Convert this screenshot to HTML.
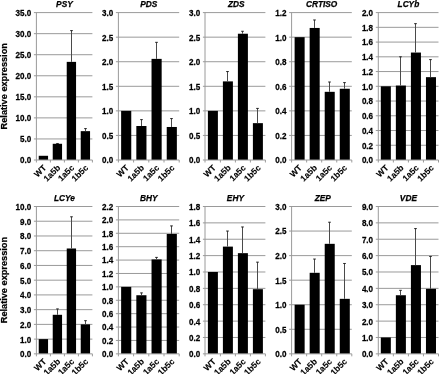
<!DOCTYPE html>
<html><head><meta charset="utf-8"><style>
html,body{margin:0;padding:0;background:#fff;}
body{width:440px;height:374px;overflow:hidden;}
svg{display:block;will-change:transform;}
text{font-family:"Liberation Sans",sans-serif;font-weight:bold;fill:#000;stroke:#000;stroke-width:0.25px;}
.yt{font-size:8.5px;text-anchor:end;}
.xl{font-size:8.5px;text-anchor:end;stroke-width:0.12px;}
.tt{font-size:8.3px;font-style:italic;text-anchor:middle;}
.yl{font-size:9.2px;text-anchor:middle;}
</style></head><body>
<svg width="440" height="374" viewBox="0 0 440 374">
<line x1="33.90" y1="138.94" x2="92.40" y2="138.94" stroke="#9a9a9a" stroke-width="1"/>
<line x1="33.90" y1="117.89" x2="92.40" y2="117.89" stroke="#9a9a9a" stroke-width="1"/>
<line x1="33.90" y1="96.83" x2="92.40" y2="96.83" stroke="#9a9a9a" stroke-width="1"/>
<line x1="33.90" y1="75.77" x2="92.40" y2="75.77" stroke="#9a9a9a" stroke-width="1"/>
<line x1="33.90" y1="54.71" x2="92.40" y2="54.71" stroke="#9a9a9a" stroke-width="1"/>
<line x1="33.90" y1="33.66" x2="92.40" y2="33.66" stroke="#9a9a9a" stroke-width="1"/>
<line x1="33.90" y1="12.60" x2="92.40" y2="12.60" stroke="#9a9a9a" stroke-width="1"/>
<text transform="translate(31.20,163) scale(0.95,1)" class="yt">0.0</text>
<text transform="translate(31.20,142) scale(0.95,1)" class="yt">5.0</text>
<text transform="translate(31.20,121) scale(0.95,1)" class="yt">10.0</text>
<text transform="translate(31.20,100) scale(0.95,1)" class="yt">15.0</text>
<text transform="translate(31.20,79) scale(0.95,1)" class="yt">20.0</text>
<text transform="translate(31.20,58) scale(0.95,1)" class="yt">25.0</text>
<text transform="translate(31.20,37) scale(0.95,1)" class="yt">30.0</text>
<text transform="translate(31.20,16) scale(0.95,1)" class="yt">35.0</text>
<rect x="38.73" y="155.79" width="9.33" height="4.21" fill="#000"/>
<rect x="52.73" y="143.79" width="9.33" height="16.21" fill="#000"/>
<line x1="57.50" y1="143.49" x2="57.50" y2="143.79" stroke="#4a4a4a" stroke-width="1"/>
<line x1="56.20" y1="143.49" x2="58.80" y2="143.49" stroke="#222" stroke-width="1"/>
<rect x="66.73" y="61.87" width="9.33" height="98.13" fill="#000"/>
<line x1="71.50" y1="30.62" x2="71.50" y2="61.87" stroke="#4a4a4a" stroke-width="1"/>
<line x1="70.20" y1="30.62" x2="72.80" y2="30.62" stroke="#222" stroke-width="1"/>
<rect x="80.73" y="131.15" width="9.33" height="28.85" fill="#000"/>
<line x1="85.50" y1="128.62" x2="85.50" y2="131.15" stroke="#4a4a4a" stroke-width="1"/>
<line x1="84.20" y1="128.62" x2="86.80" y2="128.62" stroke="#222" stroke-width="1"/>
<line x1="36.40" y1="12.60" x2="36.40" y2="162.50" stroke="#9a9a9a" stroke-width="1"/>
<line x1="33.90" y1="160.00" x2="92.40" y2="160.00" stroke="#9a9a9a" stroke-width="1"/>
<line x1="50.40" y1="160.00" x2="50.40" y2="162.50" stroke="#9a9a9a" stroke-width="1"/>
<line x1="64.40" y1="160.00" x2="64.40" y2="162.50" stroke="#9a9a9a" stroke-width="1"/>
<line x1="78.40" y1="160.00" x2="78.40" y2="162.50" stroke="#9a9a9a" stroke-width="1"/>
<line x1="92.40" y1="160.00" x2="92.40" y2="162.50" stroke="#9a9a9a" stroke-width="1"/>
<text transform="translate(46.80,168.30) rotate(-45)" class="xl">WT</text>
<text transform="translate(60.80,168.30) rotate(-45)" class="xl">1a5b</text>
<text transform="translate(74.80,168.30) rotate(-45)" class="xl">1a5c</text>
<text transform="translate(88.80,168.30) rotate(-45)" class="xl">1b5c</text>
<text x="64.40" y="7.00" class="tt">PSY</text>
<line x1="115.90" y1="135.43" x2="179.20" y2="135.43" stroke="#9a9a9a" stroke-width="1"/>
<line x1="115.90" y1="110.87" x2="179.20" y2="110.87" stroke="#9a9a9a" stroke-width="1"/>
<line x1="115.90" y1="86.30" x2="179.20" y2="86.30" stroke="#9a9a9a" stroke-width="1"/>
<line x1="115.90" y1="61.73" x2="179.20" y2="61.73" stroke="#9a9a9a" stroke-width="1"/>
<line x1="115.90" y1="37.17" x2="179.20" y2="37.17" stroke="#9a9a9a" stroke-width="1"/>
<line x1="115.90" y1="12.60" x2="179.20" y2="12.60" stroke="#9a9a9a" stroke-width="1"/>
<text transform="translate(113.20,163) scale(0.95,1)" class="yt">0.0</text>
<text transform="translate(113.20,139) scale(0.95,1)" class="yt">0.5</text>
<text transform="translate(113.20,114) scale(0.95,1)" class="yt">1.0</text>
<text transform="translate(113.20,90) scale(0.95,1)" class="yt">1.5</text>
<text transform="translate(113.20,65) scale(0.95,1)" class="yt">2.0</text>
<text transform="translate(113.20,41) scale(0.95,1)" class="yt">2.5</text>
<text transform="translate(113.20,16) scale(0.95,1)" class="yt">3.0</text>
<rect x="121.13" y="110.87" width="10.13" height="49.13" fill="#000"/>
<rect x="136.33" y="126.00" width="10.13" height="34.00" fill="#000"/>
<line x1="141.50" y1="119.61" x2="141.50" y2="126.00" stroke="#4a4a4a" stroke-width="1"/>
<line x1="140.20" y1="119.61" x2="142.80" y2="119.61" stroke="#222" stroke-width="1"/>
<rect x="151.53" y="58.88" width="10.13" height="101.12" fill="#000"/>
<line x1="156.50" y1="42.33" x2="156.50" y2="58.88" stroke="#4a4a4a" stroke-width="1"/>
<line x1="155.20" y1="42.33" x2="157.80" y2="42.33" stroke="#222" stroke-width="1"/>
<rect x="166.73" y="126.98" width="10.13" height="33.02" fill="#000"/>
<line x1="171.50" y1="118.58" x2="171.50" y2="126.98" stroke="#4a4a4a" stroke-width="1"/>
<line x1="170.20" y1="118.58" x2="172.80" y2="118.58" stroke="#222" stroke-width="1"/>
<line x1="118.40" y1="12.60" x2="118.40" y2="162.50" stroke="#9a9a9a" stroke-width="1"/>
<line x1="115.90" y1="160.00" x2="179.20" y2="160.00" stroke="#9a9a9a" stroke-width="1"/>
<line x1="133.60" y1="160.00" x2="133.60" y2="162.50" stroke="#9a9a9a" stroke-width="1"/>
<line x1="148.80" y1="160.00" x2="148.80" y2="162.50" stroke="#9a9a9a" stroke-width="1"/>
<line x1="164.00" y1="160.00" x2="164.00" y2="162.50" stroke="#9a9a9a" stroke-width="1"/>
<line x1="179.20" y1="160.00" x2="179.20" y2="162.50" stroke="#9a9a9a" stroke-width="1"/>
<text transform="translate(129.40,168.30) rotate(-45)" class="xl">WT</text>
<text transform="translate(144.60,168.30) rotate(-45)" class="xl">1a5b</text>
<text transform="translate(159.80,168.30) rotate(-45)" class="xl">1a5c</text>
<text transform="translate(175.00,168.30) rotate(-45)" class="xl">1b5c</text>
<text x="148.80" y="7.00" class="tt">PDS</text>
<line x1="202.90" y1="135.43" x2="265.40" y2="135.43" stroke="#9a9a9a" stroke-width="1"/>
<line x1="202.90" y1="110.87" x2="265.40" y2="110.87" stroke="#9a9a9a" stroke-width="1"/>
<line x1="202.90" y1="86.30" x2="265.40" y2="86.30" stroke="#9a9a9a" stroke-width="1"/>
<line x1="202.90" y1="61.73" x2="265.40" y2="61.73" stroke="#9a9a9a" stroke-width="1"/>
<line x1="202.90" y1="37.17" x2="265.40" y2="37.17" stroke="#9a9a9a" stroke-width="1"/>
<line x1="202.90" y1="12.60" x2="265.40" y2="12.60" stroke="#9a9a9a" stroke-width="1"/>
<text transform="translate(200.20,163) scale(0.95,1)" class="yt">0.0</text>
<text transform="translate(200.20,139) scale(0.95,1)" class="yt">0.5</text>
<text transform="translate(200.20,114) scale(0.95,1)" class="yt">1.0</text>
<text transform="translate(200.20,90) scale(0.95,1)" class="yt">1.5</text>
<text transform="translate(200.20,65) scale(0.95,1)" class="yt">2.0</text>
<text transform="translate(200.20,41) scale(0.95,1)" class="yt">2.5</text>
<text transform="translate(200.20,16) scale(0.95,1)" class="yt">3.0</text>
<rect x="207.90" y="110.87" width="10.00" height="49.13" fill="#000"/>
<rect x="222.90" y="81.39" width="10.00" height="78.61" fill="#000"/>
<line x1="227.50" y1="71.56" x2="227.50" y2="81.39" stroke="#4a4a4a" stroke-width="1"/>
<line x1="226.20" y1="71.56" x2="228.80" y2="71.56" stroke="#222" stroke-width="1"/>
<rect x="237.90" y="33.73" width="10.00" height="126.27" fill="#000"/>
<line x1="242.50" y1="31.27" x2="242.50" y2="33.73" stroke="#4a4a4a" stroke-width="1"/>
<line x1="241.20" y1="31.27" x2="243.80" y2="31.27" stroke="#222" stroke-width="1"/>
<rect x="252.90" y="123.15" width="10.00" height="36.85" fill="#000"/>
<line x1="257.50" y1="108.41" x2="257.50" y2="123.15" stroke="#4a4a4a" stroke-width="1"/>
<line x1="256.20" y1="108.41" x2="258.80" y2="108.41" stroke="#222" stroke-width="1"/>
<line x1="205.00" y1="12.60" x2="205.00" y2="162.50" stroke="#9a9a9a" stroke-width="1"/>
<line x1="202.90" y1="160.00" x2="265.40" y2="160.00" stroke="#9a9a9a" stroke-width="1"/>
<line x1="220.40" y1="160.00" x2="220.40" y2="162.50" stroke="#9a9a9a" stroke-width="1"/>
<line x1="235.40" y1="160.00" x2="235.40" y2="162.50" stroke="#9a9a9a" stroke-width="1"/>
<line x1="250.40" y1="160.00" x2="250.40" y2="162.50" stroke="#9a9a9a" stroke-width="1"/>
<line x1="265.40" y1="160.00" x2="265.40" y2="162.50" stroke="#9a9a9a" stroke-width="1"/>
<text transform="translate(216.30,168.30) rotate(-45)" class="xl">WT</text>
<text transform="translate(231.30,168.30) rotate(-45)" class="xl">1a5b</text>
<text transform="translate(246.30,168.30) rotate(-45)" class="xl">1a5c</text>
<text transform="translate(261.30,168.30) rotate(-45)" class="xl">1b5c</text>
<text x="236.20" y="7.00" class="tt">ZDS</text>
<line x1="289.10" y1="135.43" x2="351.80" y2="135.43" stroke="#9a9a9a" stroke-width="1"/>
<line x1="289.10" y1="110.87" x2="351.80" y2="110.87" stroke="#9a9a9a" stroke-width="1"/>
<line x1="289.10" y1="86.30" x2="351.80" y2="86.30" stroke="#9a9a9a" stroke-width="1"/>
<line x1="289.10" y1="61.73" x2="351.80" y2="61.73" stroke="#9a9a9a" stroke-width="1"/>
<line x1="289.10" y1="37.17" x2="351.80" y2="37.17" stroke="#9a9a9a" stroke-width="1"/>
<line x1="289.10" y1="12.60" x2="351.80" y2="12.60" stroke="#9a9a9a" stroke-width="1"/>
<text transform="translate(286.40,163) scale(0.95,1)" class="yt">0.0</text>
<text transform="translate(286.40,139) scale(0.95,1)" class="yt">0.2</text>
<text transform="translate(286.40,114) scale(0.95,1)" class="yt">0.4</text>
<text transform="translate(286.40,90) scale(0.95,1)" class="yt">0.6</text>
<text transform="translate(286.40,65) scale(0.95,1)" class="yt">0.8</text>
<text transform="translate(286.40,41) scale(0.95,1)" class="yt">1.0</text>
<text transform="translate(286.40,16) scale(0.95,1)" class="yt">1.2</text>
<rect x="294.61" y="37.17" width="10.03" height="122.83" fill="#000"/>
<rect x="309.66" y="27.95" width="10.03" height="132.05" fill="#000"/>
<line x1="314.50" y1="19.97" x2="314.50" y2="27.95" stroke="#4a4a4a" stroke-width="1"/>
<line x1="313.20" y1="19.97" x2="315.80" y2="19.97" stroke="#222" stroke-width="1"/>
<rect x="324.71" y="91.83" width="10.03" height="68.17" fill="#000"/>
<line x1="329.50" y1="82.00" x2="329.50" y2="91.83" stroke="#4a4a4a" stroke-width="1"/>
<line x1="328.20" y1="82.00" x2="330.80" y2="82.00" stroke="#222" stroke-width="1"/>
<rect x="339.76" y="88.76" width="10.03" height="71.24" fill="#000"/>
<line x1="344.50" y1="82.61" x2="344.50" y2="88.76" stroke="#4a4a4a" stroke-width="1"/>
<line x1="343.20" y1="82.61" x2="345.80" y2="82.61" stroke="#222" stroke-width="1"/>
<line x1="291.60" y1="12.60" x2="291.60" y2="162.50" stroke="#9a9a9a" stroke-width="1"/>
<line x1="289.10" y1="160.00" x2="351.80" y2="160.00" stroke="#9a9a9a" stroke-width="1"/>
<line x1="306.65" y1="160.00" x2="306.65" y2="162.50" stroke="#9a9a9a" stroke-width="1"/>
<line x1="321.70" y1="160.00" x2="321.70" y2="162.50" stroke="#9a9a9a" stroke-width="1"/>
<line x1="336.75" y1="160.00" x2="336.75" y2="162.50" stroke="#9a9a9a" stroke-width="1"/>
<line x1="351.80" y1="160.00" x2="351.80" y2="162.50" stroke="#9a9a9a" stroke-width="1"/>
<text transform="translate(302.52,168.30) rotate(-45)" class="xl">WT</text>
<text transform="translate(317.57,168.30) rotate(-45)" class="xl">1a5b</text>
<text transform="translate(332.62,168.30) rotate(-45)" class="xl">1a5c</text>
<text transform="translate(347.68,168.30) rotate(-45)" class="xl">1b5c</text>
<text x="321.70" y="7.00" class="tt">CRTISO</text>
<line x1="375.80" y1="145.26" x2="438.50" y2="145.26" stroke="#9a9a9a" stroke-width="1"/>
<line x1="375.80" y1="130.52" x2="438.50" y2="130.52" stroke="#9a9a9a" stroke-width="1"/>
<line x1="375.80" y1="115.78" x2="438.50" y2="115.78" stroke="#9a9a9a" stroke-width="1"/>
<line x1="375.80" y1="101.04" x2="438.50" y2="101.04" stroke="#9a9a9a" stroke-width="1"/>
<line x1="375.80" y1="86.30" x2="438.50" y2="86.30" stroke="#9a9a9a" stroke-width="1"/>
<line x1="375.80" y1="71.56" x2="438.50" y2="71.56" stroke="#9a9a9a" stroke-width="1"/>
<line x1="375.80" y1="56.82" x2="438.50" y2="56.82" stroke="#9a9a9a" stroke-width="1"/>
<line x1="375.80" y1="42.08" x2="438.50" y2="42.08" stroke="#9a9a9a" stroke-width="1"/>
<line x1="375.80" y1="27.34" x2="438.50" y2="27.34" stroke="#9a9a9a" stroke-width="1"/>
<line x1="375.80" y1="12.60" x2="438.50" y2="12.60" stroke="#9a9a9a" stroke-width="1"/>
<text transform="translate(373.10,163) scale(0.95,1)" class="yt">0.0</text>
<text transform="translate(373.10,149) scale(0.95,1)" class="yt">0.2</text>
<text transform="translate(373.10,134) scale(0.95,1)" class="yt">0.4</text>
<text transform="translate(373.10,119) scale(0.95,1)" class="yt">0.6</text>
<text transform="translate(373.10,104) scale(0.95,1)" class="yt">0.8</text>
<text transform="translate(373.10,90) scale(0.95,1)" class="yt">1.0</text>
<text transform="translate(373.10,75) scale(0.95,1)" class="yt">1.2</text>
<text transform="translate(373.10,60) scale(0.95,1)" class="yt">1.4</text>
<text transform="translate(373.10,45) scale(0.95,1)" class="yt">1.6</text>
<text transform="translate(373.10,31) scale(0.95,1)" class="yt">1.8</text>
<text transform="translate(373.10,16) scale(0.95,1)" class="yt">2.0</text>
<rect x="380.81" y="86.30" width="10.03" height="73.70" fill="#000"/>
<rect x="395.86" y="85.56" width="10.03" height="74.44" fill="#000"/>
<line x1="400.50" y1="56.82" x2="400.50" y2="85.56" stroke="#4a4a4a" stroke-width="1"/>
<line x1="399.20" y1="56.82" x2="401.80" y2="56.82" stroke="#222" stroke-width="1"/>
<rect x="410.91" y="52.55" width="10.03" height="107.45" fill="#000"/>
<line x1="415.50" y1="23.66" x2="415.50" y2="52.55" stroke="#4a4a4a" stroke-width="1"/>
<line x1="414.20" y1="23.66" x2="416.80" y2="23.66" stroke="#222" stroke-width="1"/>
<rect x="425.96" y="77.16" width="10.03" height="82.84" fill="#000"/>
<line x1="430.50" y1="59.62" x2="430.50" y2="77.16" stroke="#4a4a4a" stroke-width="1"/>
<line x1="429.20" y1="59.62" x2="431.80" y2="59.62" stroke="#222" stroke-width="1"/>
<line x1="378.30" y1="12.60" x2="378.30" y2="162.50" stroke="#9a9a9a" stroke-width="1"/>
<line x1="375.80" y1="160.00" x2="438.50" y2="160.00" stroke="#9a9a9a" stroke-width="1"/>
<line x1="393.35" y1="160.00" x2="393.35" y2="162.50" stroke="#9a9a9a" stroke-width="1"/>
<line x1="408.40" y1="160.00" x2="408.40" y2="162.50" stroke="#9a9a9a" stroke-width="1"/>
<line x1="423.45" y1="160.00" x2="423.45" y2="162.50" stroke="#9a9a9a" stroke-width="1"/>
<line x1="438.50" y1="160.00" x2="438.50" y2="162.50" stroke="#9a9a9a" stroke-width="1"/>
<text transform="translate(389.22,168.30) rotate(-45)" class="xl">WT</text>
<text transform="translate(404.27,168.30) rotate(-45)" class="xl">1a5b</text>
<text transform="translate(419.32,168.30) rotate(-45)" class="xl">1a5c</text>
<text transform="translate(434.38,168.30) rotate(-45)" class="xl">1b5c</text>
<text x="408.40" y="7.00" class="tt">LCYb</text>
<line x1="33.90" y1="339.12" x2="92.40" y2="339.12" stroke="#9a9a9a" stroke-width="1"/>
<line x1="33.90" y1="324.38" x2="92.40" y2="324.38" stroke="#9a9a9a" stroke-width="1"/>
<line x1="33.90" y1="309.65" x2="92.40" y2="309.65" stroke="#9a9a9a" stroke-width="1"/>
<line x1="33.90" y1="294.91" x2="92.40" y2="294.91" stroke="#9a9a9a" stroke-width="1"/>
<line x1="33.90" y1="280.18" x2="92.40" y2="280.18" stroke="#9a9a9a" stroke-width="1"/>
<line x1="33.90" y1="265.44" x2="92.40" y2="265.44" stroke="#9a9a9a" stroke-width="1"/>
<line x1="33.90" y1="250.71" x2="92.40" y2="250.71" stroke="#9a9a9a" stroke-width="1"/>
<line x1="33.90" y1="235.97" x2="92.40" y2="235.97" stroke="#9a9a9a" stroke-width="1"/>
<line x1="33.90" y1="221.23" x2="92.40" y2="221.23" stroke="#9a9a9a" stroke-width="1"/>
<line x1="33.90" y1="206.50" x2="92.40" y2="206.50" stroke="#9a9a9a" stroke-width="1"/>
<text transform="translate(31.20,357) scale(0.95,1)" class="yt">0.0</text>
<text transform="translate(31.20,343) scale(0.95,1)" class="yt">1.0</text>
<text transform="translate(31.20,328) scale(0.95,1)" class="yt">2.0</text>
<text transform="translate(31.20,313) scale(0.95,1)" class="yt">3.0</text>
<text transform="translate(31.20,298) scale(0.95,1)" class="yt">4.0</text>
<text transform="translate(31.20,284) scale(0.95,1)" class="yt">5.0</text>
<text transform="translate(31.20,269) scale(0.95,1)" class="yt">6.0</text>
<text transform="translate(31.20,254) scale(0.95,1)" class="yt">7.0</text>
<text transform="translate(31.20,239) scale(0.95,1)" class="yt">8.0</text>
<text transform="translate(31.20,225) scale(0.95,1)" class="yt">9.0</text>
<text transform="translate(31.20,210) scale(0.95,1)" class="yt">10.0</text>
<rect x="38.73" y="339.12" width="9.33" height="14.74" fill="#000"/>
<rect x="52.73" y="314.80" width="9.33" height="39.05" fill="#000"/>
<line x1="57.50" y1="308.91" x2="57.50" y2="314.80" stroke="#4a4a4a" stroke-width="1"/>
<line x1="56.20" y1="308.91" x2="58.80" y2="308.91" stroke="#222" stroke-width="1"/>
<rect x="66.73" y="248.49" width="9.33" height="105.36" fill="#000"/>
<line x1="71.50" y1="216.81" x2="71.50" y2="248.49" stroke="#4a4a4a" stroke-width="1"/>
<line x1="70.20" y1="216.81" x2="72.80" y2="216.81" stroke="#222" stroke-width="1"/>
<rect x="80.73" y="324.38" width="9.33" height="29.47" fill="#000"/>
<line x1="85.50" y1="320.70" x2="85.50" y2="324.38" stroke="#4a4a4a" stroke-width="1"/>
<line x1="84.20" y1="320.70" x2="86.80" y2="320.70" stroke="#222" stroke-width="1"/>
<line x1="36.40" y1="206.50" x2="36.40" y2="356.35" stroke="#9a9a9a" stroke-width="1"/>
<line x1="33.90" y1="353.85" x2="92.40" y2="353.85" stroke="#9a9a9a" stroke-width="1"/>
<line x1="50.40" y1="353.85" x2="50.40" y2="356.35" stroke="#9a9a9a" stroke-width="1"/>
<line x1="64.40" y1="353.85" x2="64.40" y2="356.35" stroke="#9a9a9a" stroke-width="1"/>
<line x1="78.40" y1="353.85" x2="78.40" y2="356.35" stroke="#9a9a9a" stroke-width="1"/>
<line x1="92.40" y1="353.85" x2="92.40" y2="356.35" stroke="#9a9a9a" stroke-width="1"/>
<text transform="translate(46.80,362.15) rotate(-45)" class="xl">WT</text>
<text transform="translate(60.80,362.15) rotate(-45)" class="xl">1a5b</text>
<text transform="translate(74.80,362.15) rotate(-45)" class="xl">1a5c</text>
<text transform="translate(88.80,362.15) rotate(-45)" class="xl">1b5c</text>
<text x="64.40" y="200.90" class="tt">LCYe</text>
<line x1="115.90" y1="340.45" x2="179.20" y2="340.45" stroke="#9a9a9a" stroke-width="1"/>
<line x1="115.90" y1="327.06" x2="179.20" y2="327.06" stroke="#9a9a9a" stroke-width="1"/>
<line x1="115.90" y1="313.66" x2="179.20" y2="313.66" stroke="#9a9a9a" stroke-width="1"/>
<line x1="115.90" y1="300.27" x2="179.20" y2="300.27" stroke="#9a9a9a" stroke-width="1"/>
<line x1="115.90" y1="286.87" x2="179.20" y2="286.87" stroke="#9a9a9a" stroke-width="1"/>
<line x1="115.90" y1="273.48" x2="179.20" y2="273.48" stroke="#9a9a9a" stroke-width="1"/>
<line x1="115.90" y1="260.08" x2="179.20" y2="260.08" stroke="#9a9a9a" stroke-width="1"/>
<line x1="115.90" y1="246.69" x2="179.20" y2="246.69" stroke="#9a9a9a" stroke-width="1"/>
<line x1="115.90" y1="233.29" x2="179.20" y2="233.29" stroke="#9a9a9a" stroke-width="1"/>
<line x1="115.90" y1="219.90" x2="179.20" y2="219.90" stroke="#9a9a9a" stroke-width="1"/>
<line x1="115.90" y1="206.50" x2="179.20" y2="206.50" stroke="#9a9a9a" stroke-width="1"/>
<text transform="translate(113.20,357) scale(0.95,1)" class="yt">0.0</text>
<text transform="translate(113.20,344) scale(0.95,1)" class="yt">0.2</text>
<text transform="translate(113.20,330) scale(0.95,1)" class="yt">0.4</text>
<text transform="translate(113.20,317) scale(0.95,1)" class="yt">0.6</text>
<text transform="translate(113.20,304) scale(0.95,1)" class="yt">0.8</text>
<text transform="translate(113.20,290) scale(0.95,1)" class="yt">1.0</text>
<text transform="translate(113.20,277) scale(0.95,1)" class="yt">1.2</text>
<text transform="translate(113.20,263) scale(0.95,1)" class="yt">1.4</text>
<text transform="translate(113.20,250) scale(0.95,1)" class="yt">1.6</text>
<text transform="translate(113.20,237) scale(0.95,1)" class="yt">1.8</text>
<text transform="translate(113.20,223) scale(0.95,1)" class="yt">2.0</text>
<text transform="translate(113.20,210) scale(0.95,1)" class="yt">2.2</text>
<rect x="121.13" y="286.87" width="10.13" height="66.98" fill="#000"/>
<rect x="136.33" y="295.24" width="10.13" height="58.61" fill="#000"/>
<line x1="141.50" y1="292.90" x2="141.50" y2="295.24" stroke="#4a4a4a" stroke-width="1"/>
<line x1="140.20" y1="292.90" x2="142.80" y2="292.90" stroke="#222" stroke-width="1"/>
<rect x="151.53" y="259.41" width="10.13" height="94.44" fill="#000"/>
<line x1="156.50" y1="257.40" x2="156.50" y2="259.41" stroke="#4a4a4a" stroke-width="1"/>
<line x1="155.20" y1="257.40" x2="157.80" y2="257.40" stroke="#222" stroke-width="1"/>
<rect x="166.73" y="233.96" width="10.13" height="119.89" fill="#000"/>
<line x1="171.50" y1="225.92" x2="171.50" y2="233.96" stroke="#4a4a4a" stroke-width="1"/>
<line x1="170.20" y1="225.92" x2="172.80" y2="225.92" stroke="#222" stroke-width="1"/>
<line x1="118.40" y1="206.50" x2="118.40" y2="356.35" stroke="#9a9a9a" stroke-width="1"/>
<line x1="115.90" y1="353.85" x2="179.20" y2="353.85" stroke="#9a9a9a" stroke-width="1"/>
<line x1="133.60" y1="353.85" x2="133.60" y2="356.35" stroke="#9a9a9a" stroke-width="1"/>
<line x1="148.80" y1="353.85" x2="148.80" y2="356.35" stroke="#9a9a9a" stroke-width="1"/>
<line x1="164.00" y1="353.85" x2="164.00" y2="356.35" stroke="#9a9a9a" stroke-width="1"/>
<line x1="179.20" y1="353.85" x2="179.20" y2="356.35" stroke="#9a9a9a" stroke-width="1"/>
<text transform="translate(129.40,362.15) rotate(-45)" class="xl">WT</text>
<text transform="translate(144.60,362.15) rotate(-45)" class="xl">1a5b</text>
<text transform="translate(159.80,362.15) rotate(-45)" class="xl">1a5c</text>
<text transform="translate(175.00,362.15) rotate(-45)" class="xl">1b5c</text>
<text x="148.80" y="200.90" class="tt">BHY</text>
<line x1="202.90" y1="337.48" x2="265.40" y2="337.48" stroke="#9a9a9a" stroke-width="1"/>
<line x1="202.90" y1="321.11" x2="265.40" y2="321.11" stroke="#9a9a9a" stroke-width="1"/>
<line x1="202.90" y1="304.73" x2="265.40" y2="304.73" stroke="#9a9a9a" stroke-width="1"/>
<line x1="202.90" y1="288.36" x2="265.40" y2="288.36" stroke="#9a9a9a" stroke-width="1"/>
<line x1="202.90" y1="271.99" x2="265.40" y2="271.99" stroke="#9a9a9a" stroke-width="1"/>
<line x1="202.90" y1="255.62" x2="265.40" y2="255.62" stroke="#9a9a9a" stroke-width="1"/>
<line x1="202.90" y1="239.24" x2="265.40" y2="239.24" stroke="#9a9a9a" stroke-width="1"/>
<line x1="202.90" y1="222.87" x2="265.40" y2="222.87" stroke="#9a9a9a" stroke-width="1"/>
<line x1="202.90" y1="206.50" x2="265.40" y2="206.50" stroke="#9a9a9a" stroke-width="1"/>
<text transform="translate(200.20,357) scale(0.95,1)" class="yt">0.0</text>
<text transform="translate(200.20,341) scale(0.95,1)" class="yt">0.2</text>
<text transform="translate(200.20,325) scale(0.95,1)" class="yt">0.4</text>
<text transform="translate(200.20,308) scale(0.95,1)" class="yt">0.6</text>
<text transform="translate(200.20,292) scale(0.95,1)" class="yt">0.8</text>
<text transform="translate(200.20,275) scale(0.95,1)" class="yt">1.0</text>
<text transform="translate(200.20,259) scale(0.95,1)" class="yt">1.2</text>
<text transform="translate(200.20,243) scale(0.95,1)" class="yt">1.4</text>
<text transform="translate(200.20,226) scale(0.95,1)" class="yt">1.6</text>
<text transform="translate(200.20,210) scale(0.95,1)" class="yt">1.8</text>
<rect x="207.90" y="271.99" width="10.00" height="81.86" fill="#000"/>
<rect x="222.90" y="246.61" width="10.00" height="107.24" fill="#000"/>
<line x1="227.50" y1="231.06" x2="227.50" y2="246.61" stroke="#4a4a4a" stroke-width="1"/>
<line x1="226.20" y1="231.06" x2="228.80" y2="231.06" stroke="#222" stroke-width="1"/>
<rect x="237.90" y="253.16" width="10.00" height="100.69" fill="#000"/>
<line x1="242.50" y1="226.97" x2="242.50" y2="253.16" stroke="#4a4a4a" stroke-width="1"/>
<line x1="241.20" y1="226.97" x2="243.80" y2="226.97" stroke="#222" stroke-width="1"/>
<rect x="252.90" y="289.18" width="10.00" height="64.67" fill="#000"/>
<line x1="257.50" y1="262.17" x2="257.50" y2="289.18" stroke="#4a4a4a" stroke-width="1"/>
<line x1="256.20" y1="262.17" x2="258.80" y2="262.17" stroke="#222" stroke-width="1"/>
<line x1="205.00" y1="206.50" x2="205.00" y2="356.35" stroke="#9a9a9a" stroke-width="1"/>
<line x1="202.90" y1="353.85" x2="265.40" y2="353.85" stroke="#9a9a9a" stroke-width="1"/>
<line x1="220.40" y1="353.85" x2="220.40" y2="356.35" stroke="#9a9a9a" stroke-width="1"/>
<line x1="235.40" y1="353.85" x2="235.40" y2="356.35" stroke="#9a9a9a" stroke-width="1"/>
<line x1="250.40" y1="353.85" x2="250.40" y2="356.35" stroke="#9a9a9a" stroke-width="1"/>
<line x1="265.40" y1="353.85" x2="265.40" y2="356.35" stroke="#9a9a9a" stroke-width="1"/>
<text transform="translate(216.30,362.15) rotate(-45)" class="xl">WT</text>
<text transform="translate(231.30,362.15) rotate(-45)" class="xl">1a5b</text>
<text transform="translate(246.30,362.15) rotate(-45)" class="xl">1a5c</text>
<text transform="translate(261.30,362.15) rotate(-45)" class="xl">1b5c</text>
<text x="235.40" y="200.90" class="tt">EHY</text>
<line x1="289.10" y1="329.29" x2="351.80" y2="329.29" stroke="#9a9a9a" stroke-width="1"/>
<line x1="289.10" y1="304.73" x2="351.80" y2="304.73" stroke="#9a9a9a" stroke-width="1"/>
<line x1="289.10" y1="280.18" x2="351.80" y2="280.18" stroke="#9a9a9a" stroke-width="1"/>
<line x1="289.10" y1="255.62" x2="351.80" y2="255.62" stroke="#9a9a9a" stroke-width="1"/>
<line x1="289.10" y1="231.06" x2="351.80" y2="231.06" stroke="#9a9a9a" stroke-width="1"/>
<line x1="289.10" y1="206.50" x2="351.80" y2="206.50" stroke="#9a9a9a" stroke-width="1"/>
<text transform="translate(286.40,357) scale(0.95,1)" class="yt">0.0</text>
<text transform="translate(286.40,333) scale(0.95,1)" class="yt">0.5</text>
<text transform="translate(286.40,308) scale(0.95,1)" class="yt">1.0</text>
<text transform="translate(286.40,284) scale(0.95,1)" class="yt">1.5</text>
<text transform="translate(286.40,259) scale(0.95,1)" class="yt">2.0</text>
<text transform="translate(286.40,234) scale(0.95,1)" class="yt">2.5</text>
<text transform="translate(286.40,210) scale(0.95,1)" class="yt">3.0</text>
<rect x="294.61" y="304.73" width="10.03" height="49.12" fill="#000"/>
<rect x="309.66" y="272.81" width="10.03" height="81.04" fill="#000"/>
<line x1="314.50" y1="259.05" x2="314.50" y2="272.81" stroke="#4a4a4a" stroke-width="1"/>
<line x1="313.20" y1="259.05" x2="315.80" y2="259.05" stroke="#222" stroke-width="1"/>
<rect x="324.71" y="243.83" width="10.03" height="110.02" fill="#000"/>
<line x1="329.50" y1="222.22" x2="329.50" y2="243.83" stroke="#4a4a4a" stroke-width="1"/>
<line x1="328.20" y1="222.22" x2="330.80" y2="222.22" stroke="#222" stroke-width="1"/>
<rect x="339.76" y="298.84" width="10.03" height="55.01" fill="#000"/>
<line x1="344.50" y1="263.48" x2="344.50" y2="298.84" stroke="#4a4a4a" stroke-width="1"/>
<line x1="343.20" y1="263.48" x2="345.80" y2="263.48" stroke="#222" stroke-width="1"/>
<line x1="291.60" y1="206.50" x2="291.60" y2="356.35" stroke="#9a9a9a" stroke-width="1"/>
<line x1="289.10" y1="353.85" x2="351.80" y2="353.85" stroke="#9a9a9a" stroke-width="1"/>
<line x1="306.65" y1="353.85" x2="306.65" y2="356.35" stroke="#9a9a9a" stroke-width="1"/>
<line x1="321.70" y1="353.85" x2="321.70" y2="356.35" stroke="#9a9a9a" stroke-width="1"/>
<line x1="336.75" y1="353.85" x2="336.75" y2="356.35" stroke="#9a9a9a" stroke-width="1"/>
<line x1="351.80" y1="353.85" x2="351.80" y2="356.35" stroke="#9a9a9a" stroke-width="1"/>
<text transform="translate(302.52,362.15) rotate(-45)" class="xl">WT</text>
<text transform="translate(317.57,362.15) rotate(-45)" class="xl">1a5b</text>
<text transform="translate(332.62,362.15) rotate(-45)" class="xl">1a5c</text>
<text transform="translate(347.68,362.15) rotate(-45)" class="xl">1b5c</text>
<text x="322.70" y="200.90" class="tt">ZEP</text>
<line x1="375.80" y1="337.48" x2="438.50" y2="337.48" stroke="#9a9a9a" stroke-width="1"/>
<line x1="375.80" y1="321.11" x2="438.50" y2="321.11" stroke="#9a9a9a" stroke-width="1"/>
<line x1="375.80" y1="304.73" x2="438.50" y2="304.73" stroke="#9a9a9a" stroke-width="1"/>
<line x1="375.80" y1="288.36" x2="438.50" y2="288.36" stroke="#9a9a9a" stroke-width="1"/>
<line x1="375.80" y1="271.99" x2="438.50" y2="271.99" stroke="#9a9a9a" stroke-width="1"/>
<line x1="375.80" y1="255.62" x2="438.50" y2="255.62" stroke="#9a9a9a" stroke-width="1"/>
<line x1="375.80" y1="239.24" x2="438.50" y2="239.24" stroke="#9a9a9a" stroke-width="1"/>
<line x1="375.80" y1="222.87" x2="438.50" y2="222.87" stroke="#9a9a9a" stroke-width="1"/>
<line x1="375.80" y1="206.50" x2="438.50" y2="206.50" stroke="#9a9a9a" stroke-width="1"/>
<text transform="translate(373.10,357) scale(0.95,1)" class="yt">0.0</text>
<text transform="translate(373.10,341) scale(0.95,1)" class="yt">1.0</text>
<text transform="translate(373.10,325) scale(0.95,1)" class="yt">2.0</text>
<text transform="translate(373.10,308) scale(0.95,1)" class="yt">3.0</text>
<text transform="translate(373.10,292) scale(0.95,1)" class="yt">4.0</text>
<text transform="translate(373.10,275) scale(0.95,1)" class="yt">5.0</text>
<text transform="translate(373.10,259) scale(0.95,1)" class="yt">6.0</text>
<text transform="translate(373.10,243) scale(0.95,1)" class="yt">7.0</text>
<text transform="translate(373.10,226) scale(0.95,1)" class="yt">8.0</text>
<text transform="translate(373.10,210) scale(0.95,1)" class="yt">9.0</text>
<rect x="380.81" y="337.48" width="10.03" height="16.37" fill="#000"/>
<rect x="395.86" y="295.24" width="10.03" height="58.61" fill="#000"/>
<line x1="400.50" y1="290.33" x2="400.50" y2="295.24" stroke="#4a4a4a" stroke-width="1"/>
<line x1="399.20" y1="290.33" x2="401.80" y2="290.33" stroke="#222" stroke-width="1"/>
<rect x="410.91" y="265.11" width="10.03" height="88.74" fill="#000"/>
<line x1="415.50" y1="228.60" x2="415.50" y2="265.11" stroke="#4a4a4a" stroke-width="1"/>
<line x1="414.20" y1="228.60" x2="416.80" y2="228.60" stroke="#222" stroke-width="1"/>
<rect x="425.96" y="288.85" width="10.03" height="65.00" fill="#000"/>
<line x1="430.50" y1="256.44" x2="430.50" y2="288.85" stroke="#4a4a4a" stroke-width="1"/>
<line x1="429.20" y1="256.44" x2="431.80" y2="256.44" stroke="#222" stroke-width="1"/>
<line x1="378.30" y1="206.50" x2="378.30" y2="356.35" stroke="#9a9a9a" stroke-width="1"/>
<line x1="375.80" y1="353.85" x2="438.50" y2="353.85" stroke="#9a9a9a" stroke-width="1"/>
<line x1="393.35" y1="353.85" x2="393.35" y2="356.35" stroke="#9a9a9a" stroke-width="1"/>
<line x1="408.40" y1="353.85" x2="408.40" y2="356.35" stroke="#9a9a9a" stroke-width="1"/>
<line x1="423.45" y1="353.85" x2="423.45" y2="356.35" stroke="#9a9a9a" stroke-width="1"/>
<line x1="438.50" y1="353.85" x2="438.50" y2="356.35" stroke="#9a9a9a" stroke-width="1"/>
<text transform="translate(389.22,362.15) rotate(-45)" class="xl">WT</text>
<text transform="translate(404.27,362.15) rotate(-45)" class="xl">1a5b</text>
<text transform="translate(419.32,362.15) rotate(-45)" class="xl">1a5c</text>
<text transform="translate(434.38,362.15) rotate(-45)" class="xl">1b5c</text>
<text x="408.40" y="200.90" class="tt">VDE</text>
<text transform="translate(7.2,86.25) rotate(-90)" class="yl">Relative expression</text>
<text transform="translate(7.2,280.10) rotate(-90)" class="yl">Relative expression</text>
</svg>
</body></html>
